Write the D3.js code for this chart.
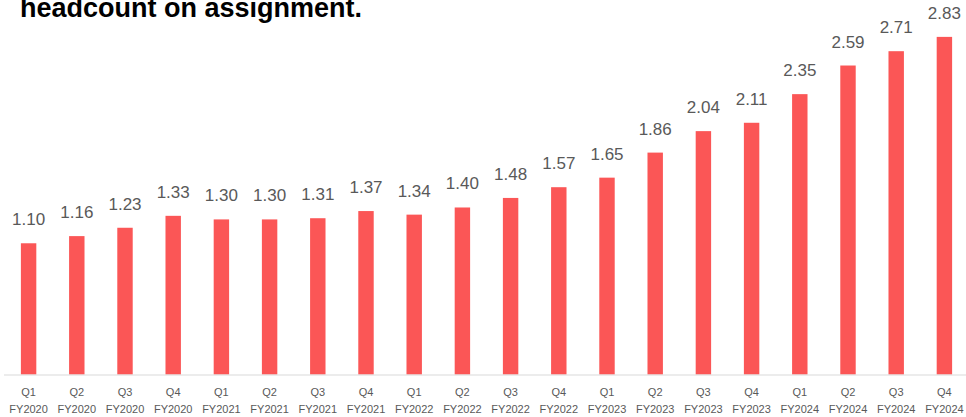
<!doctype html>
<html lang="en">
<head>
  <meta charset="utf-8">
  <title>Headcount on assignment</title>
  <script src="https://cdn.jsdelivr.net/npm/d3@7"></script>
  <style>
    body { margin: 0; background: #fff; }
    svg { display: block; }
  </style>
</head>
<body>
<div id="chart"></div>

<script>
// quarters and values
var quarters = ["Q1", "Q2", "Q3", "Q4", "Q1", "Q2", "Q3", "Q4", "Q1", "Q2",
                "Q3", "Q4", "Q1", "Q2", "Q3", "Q4", "Q1", "Q2", "Q3", "Q4"];
var years = ["FY2020", "FY2020", "FY2020", "FY2020", "FY2021", "FY2021", "FY2021", "FY2021",
             "FY2022", "FY2022", "FY2022", "FY2022", "FY2023", "FY2023", "FY2023", "FY2023",
             "FY2024", "FY2024", "FY2024", "FY2024"];
var values = [1.10, 1.16, 1.23, 1.33, 1.30, 1.30, 1.31, 1.37, 1.34, 1.40,
              1.48, 1.57, 1.65, 1.86, 2.04, 2.11, 2.35, 2.59, 2.71, 2.83];

var width = 966, height = 417;
var baseY = 374.5;

var svg = d3.select("#chart").append("svg")
    .attr("width", width)
    .attr("height", height);

var x = d3.scaleBand()
    .domain(d3.range(values.length))
    .range([4.5, 968.5])
    .paddingInner(0.68)
    .paddingOuter(0.34);

var y = d3.scaleLinear()
    .domain([0, 3])
    .range([baseY, baseY - 119.3 * 3]);

// title (cut off at the top in the original)
svg.append("text")
    .attr("x", 20)
    .attr("y", 17)
    .attr("font-family", "Liberation Sans, Arial, sans-serif")
    .attr("font-weight", "bold")
    .attr("font-size", 27)
    .attr("fill", "#000")
    .text("headcount on assignment.");

// bars
svg.selectAll("rect.bar")
    .data(values)
  .enter().append("rect")
    .attr("class", "bar")
    .attr("x", function(d, i) { return x(i); })
    .attr("y", function(d) { return y(d); })
    .attr("width", x.bandwidth())
    .attr("height", function(d) { return baseY - y(d); })
    .attr("fill", "#FB5656");

// axis line
svg.append("line")
    .attr("x1", 4).attr("x2", width)
    .attr("y1", baseY + 0.5).attr("y2", baseY + 0.5)
    .attr("stroke", "#D9D9D9")
    .attr("stroke-width", 1);

// value labels
svg.selectAll("text.val")
    .data(values)
  .enter().append("text")
    .attr("class", "val")
    .attr("x", function(d, i) { return x(i) + x.bandwidth() / 2; })
    .attr("y", function(d) { return y(d) - 18; })
    .attr("text-anchor", "middle")
    .attr("font-family", "Liberation Sans, Arial, sans-serif")
    .attr("font-size", 17)
    .attr("fill", "#595959")
    .text(function(d) { return d.toFixed(2); });

// category labels, two lines
var cat = svg.selectAll("text.cat")
    .data(values)
  .enter().append("text")
    .attr("class", "cat")
    .attr("text-anchor", "middle")
    .attr("font-family", "Liberation Sans, Arial, sans-serif")
    .attr("font-size", 11)
    .attr("fill", "#595959");

cat.append("tspan")
    .attr("x", function(d, i) { return x(i) + x.bandwidth() / 2; })
    .attr("y", 396)
    .text(function(d, i) { return quarters[i]; });

cat.append("tspan")
    .attr("x", function(d, i) { return x(i) + x.bandwidth() / 2; })
    .attr("y", 413)
    .text(function(d, i) { return years[i]; });
</script>
</body>
</html>
